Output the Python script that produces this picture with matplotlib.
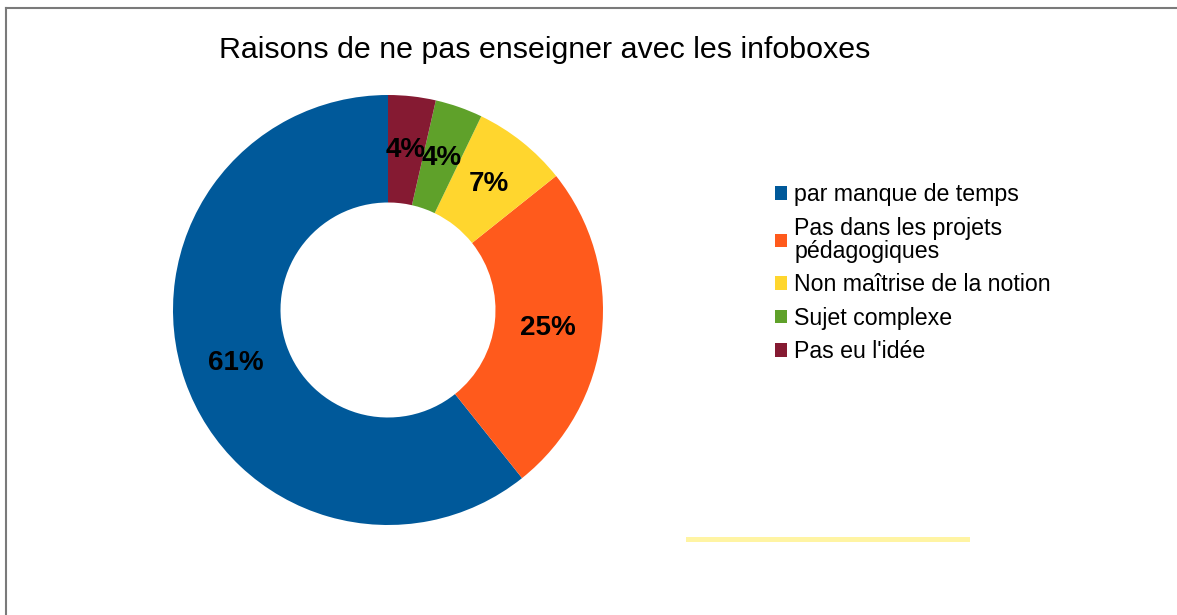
import matplotlib.pyplot as plt
from matplotlib.patches import Rectangle
from matplotlib.lines import Line2D

plt.rcParams['font.family'] = ['Liberation Sans', 'DejaVu Sans']

# --- data ---
title = "Raisons de ne pas enseigner avec les infoboxes"
labels = ["par manque de temps", "Pas dans les projets\npédagogiques",
          "Non maîtrise de la notion", "Sujet complexe", "Pas eu l'idée"]
counts = [17, 7, 2, 1, 1]
colors = ["#00599a", "#ff5a1c", "#ffd62e", "#5fa12a", "#851a32"]

W, H = 1177, 615
fig = plt.figure(figsize=(W / 100, H / 100), dpi=100)

# donut: centre (388, 310) px, outer radius 215 px
cx, cy, r = 388, 310, 215
ax = fig.add_axes([(cx - r) / W, (H - cy - r) / H, 2 * r / W, 2 * r / H])
wedges, texts, autotexts = ax.pie(
    counts, colors=colors, startangle=90, counterclock=True, radius=1.0,
    wedgeprops=dict(width=0.5, linewidth=0),
    autopct='%.0f%%', pctdistance=0.75,
    textprops=dict(fontsize=20, fontweight='bold', color='black'))
ax.set_xlim(-1, 1)
ax.set_ylim(-1, 1)
ax.set_aspect('equal')
ax.axis('off')

fig.text(545 / W, 1 - 50 / H, title, ha='center', va='center', fontsize=21.9)

leg = fig.legend(wedges, labels, loc='upper left',
                 bbox_to_anchor=(766 / W, 1 - 174 / H), frameon=False,
                 fontsize=16.7, handlelength=0.52, handleheight=0.52,
                 handletextpad=0.3, labelspacing=0.45, borderaxespad=0)
for t in leg.get_texts():
    t.set_linespacing(1.0)

# pale yellow bar and page frame from the original screenshot
fig.add_artist(Rectangle((686 / W, 1 - 542 / H), 284 / W, 5 / H,
                         transform=fig.transFigure, color='#fff4a3', lw=0))
fig.add_artist(Line2D([5.5 / W, 5.5 / W], [0, 1 - 7.5 / H],
                      transform=fig.transFigure, color='#7a7a7a', lw=1.5))
fig.add_artist(Line2D([5.5 / W, 1], [1 - 7.5 / H, 1 - 7.5 / H],
                      transform=fig.transFigure, color='#7a7a7a', lw=1.5))

fig.savefig("out.png", dpi=100)
